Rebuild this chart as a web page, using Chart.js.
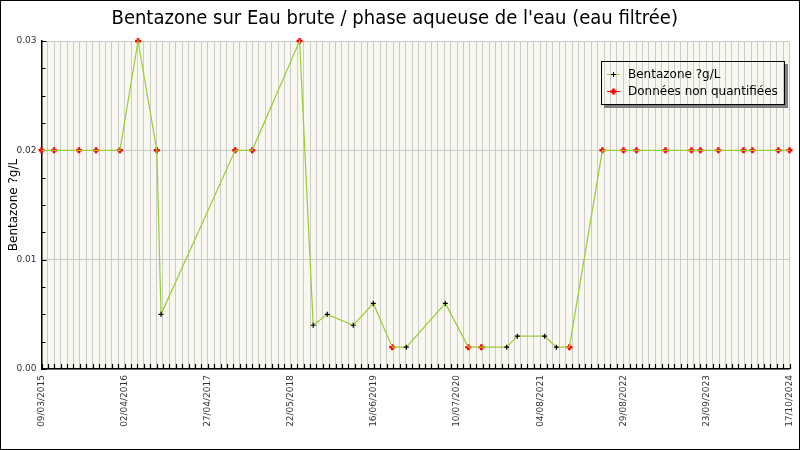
<!DOCTYPE html>
<html>
<head>
<meta charset="utf-8">
<script src="https://cdn.jsdelivr.net/npm/chart.js@4.4.1/dist/chart.umd.min.js"></script>
<style>
  html, body { margin: 0; padding: 0; background: #fff; }
</style>
</head>
<body>
<canvas id="chart" width="800" height="450"></canvas>
<script>
const sampleDates = ['2015-03-09','2015-05-07','2015-09-01','2015-11-20','2016-03-11','2016-06-04','2016-08-31','2016-09-20',
  '2017-09-03','2017-11-22','2018-07-02','2018-09-04','2018-11-09','2019-03-11','2019-06-13','2019-09-10',
  '2019-11-15','2020-05-16','2020-09-01','2020-11-01','2021-02-28','2021-04-19','2021-08-25','2021-10-19',
  '2021-12-19','2022-05-23','2022-08-30','2022-10-30','2023-03-15','2023-07-15','2023-08-26','2023-11-18',
  '2024-03-15','2024-04-26','2024-08-26','2024-10-17'];
const bentazone = [0.02,0.02,0.02,0.02,0.02,0.03,0.02,0.005,
  0.02,0.02,0.03,0.004,0.005,0.004,0.006,0.002,
  0.002,0.006,0.002,0.002,0.002,0.003,0.003,0.002,
  0.002,0.02,0.02,0.02,0.02,0.02,0.02,0.02,
  0.02,0.02,0.02,0.02];
// 1 = quantified, 0 = "données non quantifiées"
const quantified = [0,0,0,0,0,0,0,1, 0,0,0,1,1,1,1,0, 1,1,0,0,1,1,1,1, 0,0,0,0,0,0,0,0, 0,0,0,0];
const xTickLabels = ['09/03/2015','02/04/2016','27/04/2017','22/05/2018','16/06/2019',
  '10/07/2020','04/08/2021','29/08/2022','23/09/2023','17/10/2024'];
const minorStepDays = 30;
const yMin = 0, yMax = 0.03, yMinorStep = 0.0025, yMajorStep = 0.01;

const DAY = 86400000;
function isoToMs(s) { const p = s.split('-'); return Date.UTC(+p[0], +p[1] - 1, +p[2]); }
function frToMs(s) { const p = s.split('/'); return Date.UTC(+p[2], +p[1] - 1, +p[0]); }

const xMin = frToMs(xTickLabels[0]);
const xMax = frToMs(xTickLabels[xTickLabels.length - 1]);
const labelAt = new Map(xTickLabels.map(l => [frToMs(l), l]));
const isMajorY = v => Math.abs(v / yMajorStep - Math.round(v / yMajorStep)) < 1e-6;

const allPoints = sampleDates.map((d, i) => ({ x: isoToMs(d), y: bentazone[i] }));
const nqPoints = allPoints.filter((p, i) => !quantified[i]);

const frame = {
  id: 'frame',
  beforeDraw(chart) {
    const { ctx, chartArea: a } = chart;
    ctx.save();
    ctx.fillStyle = '#fff';
    ctx.fillRect(0, 0, chart.width, chart.height);
    ctx.fillStyle = '#f8f8f0';
    ctx.fillRect(a.left, a.top, a.right - a.left, a.bottom - a.top);
    ctx.restore();
  },
  beforeDatasetsDraw(chart) {
    // small tick marks pointing into the plot
    const { ctx, chartArea: a, scales: { x, y } } = chart;
    ctx.save();
    ctx.strokeStyle = '#000';
    ctx.lineWidth = 1.2;
    ctx.beginPath();
    x.ticks.forEach(t => {
      const px = Math.round(x.getPixelForValue(t.value)) + 0.5;
      ctx.moveTo(px, a.bottom); ctx.lineTo(px, a.bottom - 5);
    });
    y.ticks.forEach(t => {
      const py = Math.round(y.getPixelForValue(t.value)) + 0.5;
      ctx.moveTo(a.left, py); ctx.lineTo(a.left + (isMajorY(t.value) ? 5 : 4), py);
    });
    ctx.stroke();
    ctx.restore();
  },
  afterDraw(chart) {
    const { ctx } = chart;
    ctx.save();
    // legend box (transparent, with drop shadow)
    const bx = 601, by = 61, bw = 183, bh = 43;
    ctx.fillStyle = '#808080';
    ctx.fillRect(bx + bw + 1, by + 3, 3, bh + 1);
    ctx.fillRect(bx + 3, by + bh + 1, bw + 1, 3);
    ctx.strokeStyle = '#000';
    ctx.lineWidth = 1;
    ctx.strokeRect(bx + 0.5, by + 0.5, bw, bh);
    const items = [
      { text: 'Bentazone ?g/L', line: '#9acd32', mark: '#000', r: 2.5, w: 1, y: by + 13 },
      { text: 'Données non quantifiées', line: '#ff0000', mark: '#ff0000', r: 3, w: 2.5, y: by + 30 }
    ];
    items.forEach(it => {
      ctx.strokeStyle = it.line; ctx.lineWidth = 1;
      ctx.beginPath(); ctx.moveTo(bx + 6, it.y + 0.5); ctx.lineTo(bx + 19, it.y + 0.5); ctx.stroke();
      ctx.strokeStyle = it.mark; ctx.lineWidth = it.w;
      ctx.beginPath();
      ctx.moveTo(bx + 12.5 - it.r, it.y + 0.5); ctx.lineTo(bx + 12.5 + it.r, it.y + 0.5);
      ctx.moveTo(bx + 12.5, it.y + 0.5 - it.r); ctx.lineTo(bx + 12.5, it.y + 0.5 + it.r);
      ctx.stroke();
      ctx.fillStyle = '#000';
      ctx.font = '12px "DejaVu Sans"';
      ctx.textBaseline = 'middle';
      ctx.fillText(it.text, bx + 27, it.y + 1);
    });
    // outer frame
    ctx.strokeStyle = '#000';
    ctx.lineWidth = 1;
    ctx.strokeRect(0.5, 0.5, chart.width - 1, chart.height - 1);
    ctx.restore();
  }
};

new Chart(document.getElementById('chart'), {
  type: 'line',
  data: {
    datasets: [
      {
        label: 'Bentazone ?g/L',
        data: allPoints,
        borderColor: '#9acd32',
        borderWidth: 1.2,
        tension: 0,
        clip: false,
        pointStyle: 'cross',
        pointRadius: quantified.map(q => q ? 2.5 : 0),
        pointBorderColor: '#000',
        pointBorderWidth: 1.2,
        fill: false
      },
      {
        label: 'Données non quantifiées',
        data: nqPoints,
        showLine: false,
        clip: false,
        pointStyle: 'cross',
        pointRadius: 3,
        pointBorderColor: '#ff0000',
        pointBorderWidth: 2.5
      }
    ]
  },
  options: {
    responsive: false,
    animation: false,
    layout: { padding: { left: 0, right: 10.5, top: 0, bottom: 0 } },
    plugins: {
      legend: { display: false },
      tooltip: { enabled: false },
      title: {
        display: true,
        text: "Bentazone sur Eau brute / phase aqueuse de l'eau (eau filtrée)",
        color: '#000',
        font: { family: '"DejaVu Sans Condensed", "DejaVu Sans"', size: 20, weight: 'normal' },
        padding: { top: 7, bottom: 10 }
      }
    },
    scales: {
      x: {
        type: 'linear',
        min: xMin,
        max: xMax,
        afterBuildTicks(scale) {
          const ticks = [];
          for (let t = xMin; t <= xMax; t += minorStepDays * DAY) ticks.push({ value: t });
          scale.ticks = ticks;
        },
        afterFit(scale) {
          scale.height = 81;
          scale.paddingLeft = 0;
          scale.paddingRight = 0;
        },
        grid: { color: '#cccccc', lineWidth: 1, drawTicks: false },
        border: { color: '#000', width: 1.5 },
        ticks: {
          autoSkip: false,
          maxRotation: 90,
          minRotation: 90,
          padding: 6,
          color: '#333',
          font: { family: '"DejaVu Sans"', size: 9 },
          callback: v => labelAt.get(v) || ''
        }
      },
      y: {
        min: yMin,
        max: yMax,
        afterFit(scale) { scale.width = 41.5; },
        grid: {
          color: c => isMajorY(c.tick.value) ? '#cccccc' : 'rgba(0,0,0,0)',
          drawTicks: false
        },
        border: { color: '#000', width: 1.5 },
        title: {
          display: true,
          text: 'Bentazone ?g/L',
          color: '#000',
          font: { family: '"DejaVu Sans"', size: 12 },
          padding: { top: 7, bottom: 0 }
        },
        ticks: {
          stepSize: yMinorStep,
          autoSkip: false,
          padding: 5,
          color: '#333',
          font: { family: '"DejaVu Sans"', size: 9 },
          callback: v => isMajorY(v) ? v.toFixed(2) : ''
        }
      }
    }
  },
  plugins: [frame]
});
</script>
</body>
</html>
